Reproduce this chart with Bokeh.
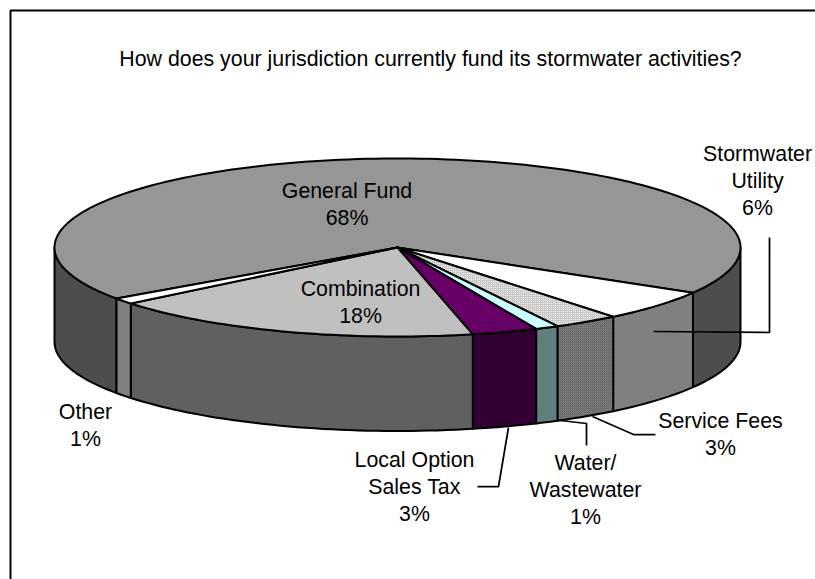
import math
from bokeh.plotting import figure
from bokeh.embed import file_html
from bokeh.resources import INLINE
from bokeh.core.properties import value

title_text = "How does your jurisdiction currently fund its stormwater activities?"
categories = ["General Fund", "Stormwater Utility", "Service Fees", "Water/ Wastewater",
              "Local Option Sales Tax", "Combination", "Other"]
shares = [68.2, 5.7, 3.1, 1.1, 3.1, 17.7, 1.1]
label_lines = [["General Fund"], ["Stormwater", "Utility"], ["Service Fees"], ["Water/", "Wastewater"],
               ["Local Option", "Sales Tax"], ["Combination"], ["Other"]]
top_colors = ["#969696", "#ffffff", "#c8c8c8", "#ccffff", "#660066", "#c0c0c0", "#ffffff"]
side_colors = ["#4d4d4d", "#808080", "#6c6c6c", "#608080", "#330033", "#606060", "#808080"]
label_centers = [(346.5, 190), (757, 153), (720, 420), (585, 462), (414, 459), (360, 288), (85, 411)]
leaders = {
    "Stormwater Utility": ([653, 769, 769], [331, 332, 237]),
    "Service Fees": ([592, 633, 655], [416, 434, 434]),
    "Water/ Wastewater": ([560, 586, 586], [420, 423, 445]),
    "Local Option Sales Tax": ([508, 498, 477], [427, 486, 486]),
}

W, H = 815, 579
CX, CY, RX, RY, DEPTH = 397, 247, 343, 89, 94.5
START = 145.0
LINE_H = 27
FONT = value("Liberation Sans")

p = figure(width=W, height=H, x_range=(0, W), y_range=(H, 0),
           toolbar_location=None, output_backend="svg", min_border=0, outline_line_color=None)
p.axis.visible = False
p.grid.visible = False


def arc(a0, a1, dy=0.0):
    n = max(2, int(abs(a1 - a0) / 1.5) + 2)
    angs = [math.radians(a0 + (a1 - a0) * i / (n - 1)) for i in range(n)]
    return [CX + RX * math.cos(t) for t in angs], [CY + RY * math.sin(t) + dy for t in angs]


# slices as angular spans
spans = []
a = START
total = sum(shares)
for s in shares:
    spans.append((a, a + s / total * 360))
    a += s / total * 360

# frame
p.line([10, 10, W], [H, 10, 10], line_color="black", line_width=2)

# side walls (only front half of the rim shows)
for i, ((a0, a1), col) in enumerate(zip(spans, side_colors)):
    for lo, hi in ((0, 180), (360, 540)):
        b0, b1 = max(a0, lo), min(a1, hi)
        if b1 <= b0:
            continue
        xt, yt = arc(b0, b1)
        xb, yb = arc(b1, b0, DEPTH)
        kw = {}
        if i == 2:
            kw = dict(hatch_pattern="dot", hatch_color="#8c8c8c", hatch_scale=2, hatch_weight=1)
        p.patch(xt + xb, yt + yb, fill_color=col, line_color="black", line_width=2,
                line_join="round", **kw)

# top faces
for i, ((a0, a1), col) in enumerate(zip(spans, top_colors)):
    xt, yt = arc(a0, a1)
    kw = {}
    if i == 2:
        kw = dict(hatch_pattern="dot", hatch_color="#ffffff", hatch_scale=2, hatch_weight=1)
    p.patch([CX] + xt, [CY] + yt, fill_color=col, line_color="black", line_width=2,
            line_join="round", **kw)

# leaders
for name, (lx, ly) in leaders.items():
    p.line(lx, ly, line_color="black", line_width=1.75)

# labels
xs, ys, texts = [], [], []
for lines, share, (cx, cy) in zip(label_lines, shares, label_centers):
    rows = lines + [f"{round(share)}%"]
    for j, row in enumerate(rows):
        xs.append(cx)
        ys.append(cy + j * LINE_H)
        texts.append(row)
p.text(xs, ys, text=texts, text_align="center", text_baseline="middle", text_font=FONT,
       text_font_size="21.33px", text_color="black")
p.text([430], [58], text=[title_text], text_align="center", text_baseline="middle",
       text_font=FONT, text_font_size="21.33px", text_color="black")

open("out.html", "w").write(file_html(p, INLINE))
